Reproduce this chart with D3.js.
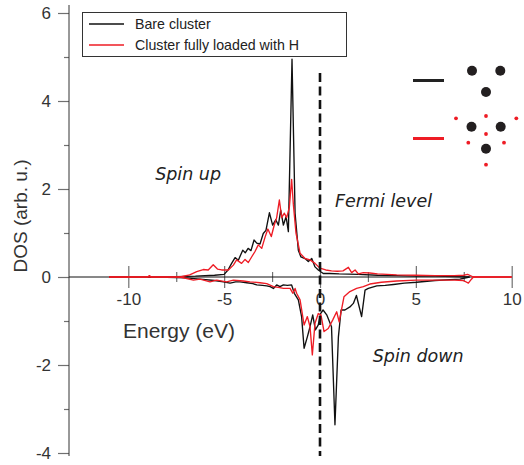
<!DOCTYPE html>
<html><head><meta charset="utf-8">
<script src="https://cdn.jsdelivr.net/npm/d3@7"></script>
<style>body{margin:0;background:#fff}svg{display:block}</style>
</head><body>
<script>
// ---- data ----
const xTicks = [-10, -5, 0, 5, 10];
const xMinorTicks = [-7.5, -2.5, 2.5, 7.5];
const yTicks = [-4, -2, 0, 2, 4, 6];
const yMinorTicks = [-3, -1, 1, 3, 5];
const seriesNames = ["Bare cluster", "Cluster fully loaded with H"];

const bareUpE = [-11,-9,-7.5,-6.5,-5.5,-5.0,-4.8,-4.61,-4.43,-4.26,-4.03,-3.9,-3.75,-3.6,-3.44,-3.3,-3.13,-2.96,-2.82,-2.64,-2.47,-2.31,-2.17,-2.05,-1.91,-1.77,-1.65,-1.46,-1.3,-1.13,-1.0,-0.78,-0.61,-0.43,-0.26,-0.09,0.17,0.5,1,2,3,4,5,6,7,7.8];
const bareUpDOS = [0,0,0.01,0.02,0.04,0.06,0.16,0.31,0.44,0.38,0.61,0.55,0.65,0.60,0.84,0.77,0.75,0.99,1.06,1.46,1.18,1.30,1.18,1.52,1.18,1.37,1.03,4.95,1.45,0.61,0.46,0.42,0.35,0.42,0.23,0.16,0.08,0.08,0.07,0.06,0.04,0.03,0.02,0.02,0.01,0];

const loadedUpE = [-11,-9.0,-8.9,-8.8,-7.3,-6.8,-6.43,-6.09,-5.83,-5.57,-5.35,-5.13,-4.78,-4.52,-4.35,-4.09,-3.91,-3.74,-3.56,-3.39,-3.22,-3.04,-2.87,-2.72,-2.54,-2.4,-2.26,-2.12,-2.0,-1.86,-1.74,-1.6,-1.48,-1.39,-1.25,-1.04,-0.78,-0.52,-0.26,0,0.3,0.6,0.9,1.2,1.48,1.65,1.83,2.0,2.26,2.6,3.0,3.5,4,5,6,7,7.5,7.7,8.0,10];
const loadedUpDOS = [0,0,0.03,0,0,0.05,0.12,0.17,0.16,0.28,0.18,0.16,0.16,0.27,0.39,0.31,0.40,0.33,0.46,0.58,0.73,0.65,0.90,1.09,0.92,1.16,1.35,1.75,1.35,1.45,1.35,1.58,2.22,1.65,0.99,0.54,0.42,0.39,0.31,0.20,0.16,0.14,0.13,0.14,0.22,0.10,0.16,0.07,0.10,0.09,0.07,0.06,0.05,0.04,0.03,0.03,0.04,0.06,0,0];

const bareDownE = [-11,-8,-7,-6.26,-5.5,-5.04,-4.69,-4.4,-4.17,-3.82,-3.5,-3.3,-3.0,-2.78,-2.6,-2.43,-2.26,-2.09,-1.91,-1.7,-1.48,-1.34,-1.13,-0.96,-0.83,-0.66,-0.52,-0.38,-0.24,-0.09,0.03,0.16,0.35,0.6,0.78,0.96,1.1,1.3,1.56,1.74,1.9,2.17,2.35,2.52,2.96,3.4,3.83,4.4,5.04,6,7.3,7.8];
const bareDownDOS = [0,-0.01,-0.02,-0.05,-0.08,-0.11,-0.14,-0.11,-0.11,-0.13,-0.15,-0.18,-0.19,-0.20,-0.22,-0.26,-0.18,-0.22,-0.18,-0.19,-0.18,-0.37,-0.52,-0.90,-1.62,-1.36,-1.13,-0.86,-1.20,-1.09,-0.83,-0.75,-0.86,-1.13,-3.36,-1.36,-0.75,-0.75,-0.68,-0.60,-0.42,-0.90,-0.30,-0.26,-0.20,-0.19,-0.17,-0.14,-0.12,-0.08,-0.05,0];

const loadedDownE = [-11,-7.3,-6.6,-6.26,-5.74,-5.39,-4.87,-4.52,-4.0,-3.65,-3.13,-2.78,-2.43,-2.1,-1.91,-1.56,-1.42,-1.30,-1.22,-1.04,-0.83,-0.66,-0.52,-0.40,-0.26,-0.09,0.05,0.21,0.43,0.66,0.87,1.0,1.25,1.56,1.91,2.26,2.6,3.2,4.0,5.04,6.0,7.0,7.48,7.74,7.9,8.0,10];
const loadedDownDOS = [0,0,-0.07,-0.05,-0.11,-0.07,-0.11,-0.07,-0.09,-0.11,-0.13,-0.15,-0.22,-0.24,-0.26,-0.26,-0.37,-0.26,-0.37,-0.52,-1.09,-0.90,-1.13,-1.77,-1.05,-0.83,-0.86,-1.24,-1.17,-0.98,-0.79,-1.02,-0.45,-0.33,-0.26,-0.22,-0.16,-0.12,-0.09,-0.07,-0.07,-0.07,-0.08,-0.14,-0.05,0,0];

const annotations = [["Spin up", -8.6, 2.2], ["Fermi level", 0.78, 1.6], ["Spin down", 2.75, -1.93]];

// ---- drawing ----
const W = 524, H = 465;
const svg = d3.select("body").append("svg").attr("width", W).attr("height", H);
const x = d3.scaleLinear().domain([-10, 10]).range([128.3, 511.7]);
const y = d3.scaleLinear().domain([-4, 6]).range([453, 13]);
const axisX = 69;
const tickCol = "#707070", txtCol = "#333";
const font = "Liberation Sans, Arial, sans-serif";
const fmt = d => String(d);

// y axis
const yAxis = svg.append("g").attr("transform", `translate(${axisX},0)`)
  .call(d3.axisLeft(y).tickValues(yTicks).tickSize(11).tickPadding(7).tickFormat(fmt));
yAxis.select(".domain").remove();
yAxis.selectAll(".tick line").attr("stroke", tickCol).attr("stroke-width", 1.2);
yAxis.selectAll(".tick text").attr("fill", txtCol).style("font-family", font).style("font-size", "17px");
const yMinor = svg.append("g").attr("transform", `translate(${axisX},0)`)
  .call(d3.axisLeft(y).tickValues(yMinorTicks).tickSize(5).tickFormat(""));
yMinor.select(".domain").remove();
yMinor.selectAll(".tick line").attr("stroke", tickCol).attr("stroke-width", 1.2);
svg.append("line").attr("x1", axisX).attr("x2", axisX).attr("y1", 5).attr("y2", 456)
  .attr("stroke", "#333").attr("stroke-width", 1);

// x axis ticks (crossing)
const xAxisG = svg.append("g").attr("transform", `translate(0,${y(0) - 11})`)
  .call(d3.axisBottom(x).tickValues(xTicks).tickSize(22).tickPadding(5).tickFormat(fmt));
xAxisG.select(".domain").remove();
xAxisG.selectAll(".tick line").attr("stroke", tickCol).attr("stroke-width", 1.2);
xAxisG.selectAll(".tick text").attr("fill", txtCol).style("font-family", font).style("font-size", "17px");
const xMinor = svg.append("g").attr("transform", `translate(0,${y(0) - 5})`)
  .call(d3.axisBottom(x).tickValues(xMinorTicks).tickSize(10).tickFormat(""));
xMinor.select(".domain").remove();
xMinor.selectAll(".tick line").attr("stroke", tickCol).attr("stroke-width", 1.2);
svg.append("line").attr("x1", axisX).attr("x2", x(10)).attr("y1", y(0)).attr("y2", y(0))
  .attr("stroke", "#111").attr("stroke-width", 1);

// axis titles
svg.append("text").attr("x", 123).attr("y", 338).text("Energy (eV)")
  .attr("fill", txtCol).style("font-family", font).style("font-size", "21px");
svg.append("text").attr("transform", "translate(27,216) rotate(-90)").attr("text-anchor", "middle")
  .text("DOS (arb. u.)").attr("fill", txtCol).style("font-family", font).style("font-size", "19px");

// curves
const line = d3.line().x(d => x(d[0])).y(d => y(d[1]));
const zip = (a, b) => a.map((v, i) => [v, b[i]]);
const curves = [
  [zip(bareUpE, bareUpDOS), "#111"],
  [zip(bareDownE, bareDownDOS), "#111"],
  [zip(loadedUpE, loadedUpDOS), "#ee1c25"],
  [zip(loadedDownE, loadedDownDOS), "#ee1c25"],
];
curves.forEach(([pts, col]) => {
  svg.append("path").datum(pts).attr("d", line).attr("fill", "none")
    .attr("stroke", col).attr("stroke-width", 1.35).attr("stroke-linejoin", "round");
});

// Fermi level dashed line
svg.append("line").attr("x1", x(0)).attr("x2", x(0)).attr("y1", 73).attr("y2", 456)
  .attr("stroke", "#111").attr("stroke-width", 2.6).attr("stroke-dasharray", "9,4.5");

// annotations
annotations.forEach(([t, ax, ay]) => {
  svg.append("text").attr("x", x(ax)).attr("y", y(ay)).text(t)
    .attr("fill", "#222").style("font-family", "DejaVu Sans, sans-serif")
    .style("font-style", "italic").style("font-size", "17.5px");
});

// legend
const lg = svg.append("g");
lg.append("rect").attr("x", 82.5).attr("y", 12.5).attr("width", 264).attr("height", 44)
  .attr("fill", "#fff").attr("stroke", "#333").attr("stroke-width", 1);
const legCols = ["#111", "#ee1c25"];
seriesNames.forEach((n, i) => {
  const yy = 24 + i * 21;
  lg.append("line").attr("x1", 89).attr("x2", 124).attr("y1", yy).attr("y2", yy)
    .attr("stroke", legCols[i]).attr("stroke-width", 1.6);
  lg.append("text").attr("x", 135).attr("y", yy + 5.2).text(n).attr("fill", "#222")
    .style("font-family", font).style("font-size", "14.2px");
});

// inset structures
const ins = svg.append("g");
ins.append("line").attr("x1", 413).attr("x2", 444).attr("y1", 80.5).attr("y2", 80.5).attr("stroke", "#222").attr("stroke-width", 3);
ins.append("line").attr("x1", 413).attr("x2", 444).attr("y1", 138.5).attr("y2", 138.5).attr("stroke", "#ee1c25").attr("stroke-width", 3);
const bigDots = [[472, 70.7], [500.3, 70.7], [486, 92], [471.5, 126.7], [500.7, 126.7], [486, 148.7]];
const smallDots = [[456, 118.3], [486, 116], [516.3, 118.3], [486, 134], [468.3, 142.7], [504, 142.7], [486, 164.7]];
ins.selectAll(".b").data(bigDots).enter().append("circle").attr("cx", d => d[0]).attr("cy", d => d[1]).attr("r", 5).attr("fill", "#231f20");
ins.selectAll(".s").data(smallDots).enter().append("circle").attr("cx", d => d[0]).attr("cy", d => d[1]).attr("r", 1.9).attr("fill", "#ee1c25");
</script>
</body></html>
